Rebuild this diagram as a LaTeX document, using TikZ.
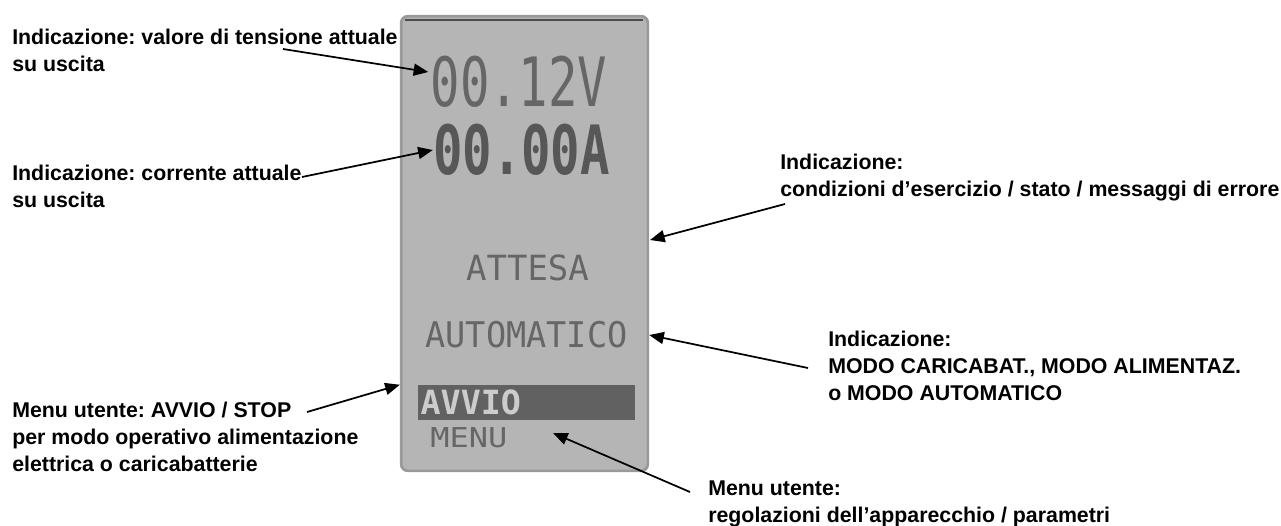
\documentclass[tikz,border=0pt]{standalone}
\usepackage{fontspec}
\usepackage{graphicx}
\setmainfont{Liberation Sans}
\newfontfamily\lcdfont{DejaVu Sans Mono}
\usetikzlibrary{arrows.meta}

\tikzset{
  label/.style={anchor=north west, align=left, inner sep=0,
    font=\fontsize{16}{20}\selectfont\bfseries},
  pointer/.style={-{Triangle[length=11pt,width=9pt]}, line width=1.3pt},
  lcd/.style={inner sep=0, text=black!60},
  screen/.style={minimum width=185pt, minimum height=341pt, inner sep=0,
    rounded corners=5pt, fill=black!29, draw=black!40, line width=2pt},
}

\begin{document}
\frenchspacing
\begin{tikzpicture}[x=0.75pt, y=-0.75pt]
  \useasboundingbox (0,0) rectangle (1281,525);

  % display
  \node[screen] (screen) at (524.5,243.5) {};
  \draw[black!70, line width=1pt] (405,20) -- (643,20);

  \node[lcd, font=\lcdfont\fontsize{51}{51}\selectfont] (volt) at (519,82)
    {\scalebox{0.72}[1]{00.12V}};
  \node[lcd, text=black!66, font=\lcdfont\bfseries\fontsize{51}{51}\selectfont] (amp) at (521.5,150)
    {\scalebox{0.72}[1]{00.00A}};
  \node[lcd, font=\lcdfont\fontsize{26}{26}\selectfont] (state) at (527.5,267.5)
    {\scalebox{0.98}[1]{ATTESA}};
  \node[lcd, font=\lcdfont\fontsize{26.5}{26.5}\selectfont] (mode) at (526.5,335)
    {\scalebox{0.95}[1]{AUTOMATICO}};
  \node[fill=black!62, minimum width=162.75pt, minimum height=26.25pt, inner sep=0] (bar) at (526.5,402.5) {};
  \node[lcd, text=black!20, anchor=west, font=\lcdfont\bfseries\fontsize{25}{25}\selectfont] (start) at ([xshift=2pt]bar.west)
    {AVVIO};
  \node[lcd, anchor=west, font=\lcdfont\fontsize{20.5}{20.5}\selectfont] (menu) at (430,438)
    {\scalebox{1.17}[1]{MENU}};

  % labels
  \node[label] (t1) at (12,29) {Indicazione: valore di tensione attuale\\su uscita};
  \node[label] (t2) at (12,165) {Indicazione: corrente attuale\\su uscita};
  \node[label] (t3) at (780,154) {Indicazione:\\condizioni d’esercizio / stato / messaggi di errore};
  \node[label] (t4) at (828,331) {Indicazione:\\MODO CARICABAT., MODO ALIMENTAZ.\\o MODO AUTOMATICO};
  \node[label] (t5) at (12,402) {Menu utente: AVVIO / STOP\\per modo operativo alimentazione\\elettrica o caricabatterie};
  \node[label] (t6) at (708,481) {Menu utente:\\regolazioni dell’apparecchio / parametri};

  % arrows
  \coordinate (c1) at (283,49);
  \coordinate (c2) at (302,177);
  \coordinate (c3) at (785,204);
  \coordinate (c4) at (808,368);
  \coordinate (c5) at (307,412);
  \coordinate (c6) at (690,492);
  \coordinate (p3) at (650,240);
  \coordinate (p6) at (553,433);

  \draw[pointer] (c1) -- ([xshift=-1.5pt, yshift=7.5pt]volt.west);
  \draw[pointer] (c2) -- (amp.west);
  \draw[pointer] (c3) -- (p3);
  \draw[pointer] (c4) -- (screen.east |- mode);
  \draw[pointer] (c5) -- (screen.west |- bar.north);
  \draw[pointer] (c6) -- (p6);
\end{tikzpicture}
\end{document}
